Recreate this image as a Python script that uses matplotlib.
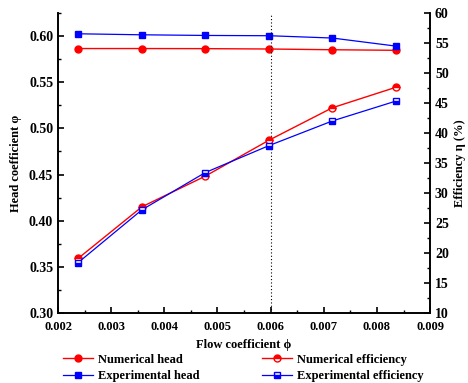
import matplotlib
matplotlib.use("Agg")
import matplotlib.pyplot as plt
from matplotlib.lines import Line2D
from matplotlib.ticker import AutoMinorLocator

plt.rcParams['font.family'] = ['Liberation Serif', 'DejaVu Serif']
plt.rcParams['font.weight'] = 'bold'

flow = [0.00238, 0.00358, 0.00477, 0.00597, 0.00716, 0.00835]
num_head = [0.5865, 0.5865, 0.5864, 0.5860, 0.5852, 0.5846]
exp_head = [0.6025, 0.6014, 0.6007, 0.6004, 0.5979, 0.5892]
num_eff = [19.1, 27.7, 32.8, 38.8, 44.2, 47.6]
exp_eff = [18.4, 27.2, 33.4, 37.9, 42.0, 45.3]
x_ticks = [0.002, 0.003, 0.004, 0.005, 0.006, 0.007, 0.008, 0.009]
left_ticks = [0.30, 0.35, 0.40, 0.45, 0.50, 0.55, 0.60]
right_ticks = [10, 15, 20, 25, 30, 35, 40, 45, 50, 55, 60]

RED = '#ff0000'
BLUE = '#0000ff'
MS_C = 5.0
MS_S = 4.6

fig = plt.figure(figsize=(4.68, 3.83), dpi=100)
ax = fig.add_axes([0.124, 0.183, 0.795, 0.783])
ax2 = ax.twinx()

ax.plot(flow, num_head, color=RED, lw=1.0, marker='o', ms=MS_C, mfc=RED, mec=RED)
ax.plot(flow, exp_head, color=BLUE, lw=0.9, marker='s', ms=MS_S, mfc=BLUE, mec=BLUE)
ax2.plot(flow, num_eff, color=RED, lw=1.0, marker='o', ms=MS_C, fillstyle='top',
         mfc=RED, mfcalt='white', mec=RED)
ax2.plot(flow, exp_eff, color=BLUE, lw=0.9, marker='s', ms=MS_S, fillstyle='bottom',
         mfc=BLUE, mfcalt='white', mec=BLUE)

ax.axvline(0.006, color='black', lw=0.8, ls=(0, (1, 2)))

ax.set_xlim(0.002, 0.009)
ax.set_ylim(0.30, 0.625)
ax2.set_ylim(10, 60)
ax.set_xticks(x_ticks)
ax.set_xticklabels(['%.3f' % v for v in x_ticks])
ax.set_yticks(left_ticks)
ax.set_yticklabels(['%.2f' % v for v in left_ticks])
ax2.set_yticks(right_ticks)

ax.xaxis.set_minor_locator(AutoMinorLocator(2))
ax.yaxis.set_minor_locator(AutoMinorLocator(2))
ax2.yaxis.set_minor_locator(AutoMinorLocator(2))

for a in (ax, ax2):
    a.spines['top'].set_visible(False)
    for s in a.spines.values():
        s.set_linewidth(1.2)
    a.tick_params(which='major', direction='in', length=4, width=1.2, labelsize=10)
    a.tick_params(which='minor', direction='in', length=2.5, width=1.0)
ax.tick_params(axis='x', pad=6, labelsize=9)

ax.set_xlabel('Flow coefficient ϕ', fontsize=9, fontweight='bold', labelpad=4)
ax.set_ylabel('Head coefficient φ', fontsize=9, fontweight='bold', labelpad=5)
ax2.set_ylabel('Efficiency η (%)', fontsize=9, fontweight='bold', labelpad=4)

h1 = [Line2D([], [], color=RED, lw=1.0, marker='o', ms=MS_C, mfc=RED, mec=RED),
      Line2D([], [], color=BLUE, lw=0.9, marker='s', ms=MS_S, mfc=BLUE, mec=BLUE)]
h2 = [Line2D([], [], color=RED, lw=1.0, marker='o', ms=MS_C, fillstyle='top', mfc=RED,
             mfcalt='white', mec=RED),
      Line2D([], [], color=BLUE, lw=0.9, marker='s', ms=MS_S, fillstyle='bottom', mfc=BLUE,
             mfcalt='white', mec=BLUE)]
leg_kw = dict(frameon=False, fontsize=9, handlelength=2.4, handletextpad=0.4,
              labelspacing=0.35, borderpad=0, borderaxespad=0)
fig.legend(h1, ['Numerical head', 'Experimental head'], loc='upper left',
           bbox_to_anchor=(0.135, 0.077), **leg_kw)
fig.legend(h2, ['Numerical efficiency', 'Experimental efficiency'], loc='upper left',
           bbox_to_anchor=(0.56, 0.077), **leg_kw)

fig.savefig('out.png', dpi=100)
